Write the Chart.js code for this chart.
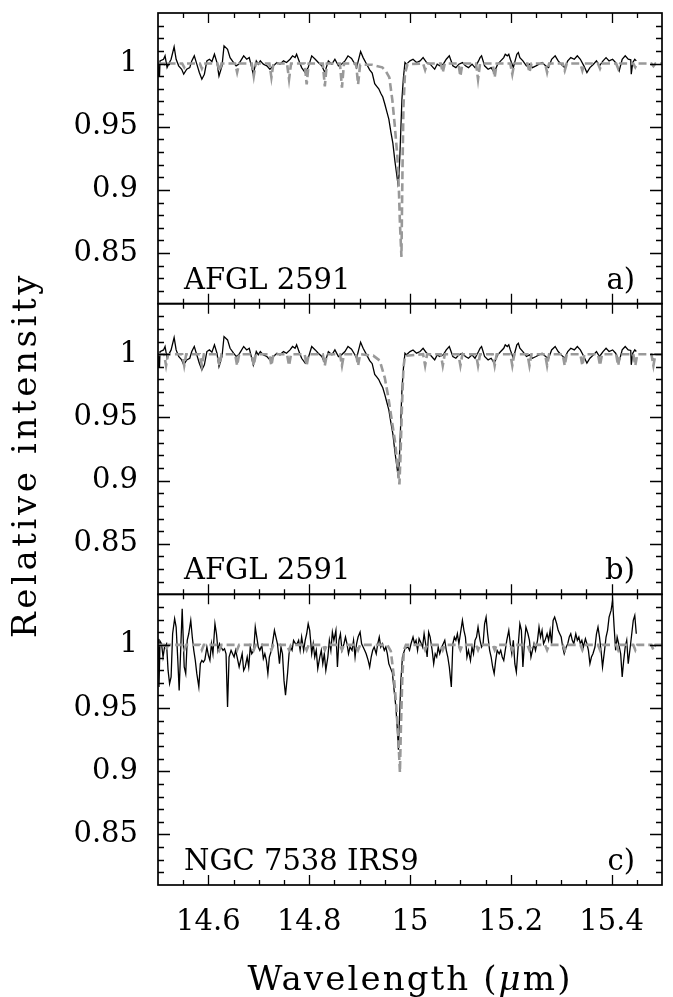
<!DOCTYPE html>
<html lang="en">
<head>
<meta charset="UTF-8">
<title>Relative intensity around 15 micron</title>
<script src="https://cdn.jsdelivr.net/npm/chart.js"></script>
<style>
  html, body { margin: 0; padding: 0; background: #fff; }
  canvas { display: block; }
</style>
</head>
<body>
<canvas id="spec" width="673" height="997"></canvas>
<script>
// observed spectrum of AFGL 2591 (same in panels a and b), [wavelength, intensity]
const afglSpec = [
  [14.500,0.9990],[14.501,0.9900],[14.503,0.9900],[14.504,1.0021],[14.511,1.0034],[14.514,1.0061],[14.518,0.9968],
  [14.521,0.9995],[14.526,1.0034],[14.532,1.0132],[14.536,1.0034],[14.541,0.9982],[14.547,0.9955],[14.551,0.9916],
  [14.557,0.9955],[14.563,0.9968],[14.567,1.0021],[14.572,1.0061],[14.577,0.9995],[14.582,0.9929],[14.587,0.9876],
  [14.592,0.9916],[14.597,1.0021],[14.602,1.0034],[14.607,1.0016],[14.612,1.0074],[14.617,1.0008],[14.621,0.9902],
  [14.627,0.9982],[14.631,1.0140],[14.638,1.0113],[14.643,1.0047],[14.650,1.0008],[14.655,0.9982],[14.660,0.9995],
  [14.664,1.0021],[14.670,1.0061],[14.676,1.0034],[14.681,1.0047],[14.686,0.9968],[14.689,0.9916],[14.695,1.0021],
  [14.699,0.9995],[14.703,1.0021],[14.709,0.9995],[14.716,0.9982],[14.722,0.9955],[14.729,0.9982],[14.736,1.0008],
  [14.742,0.9995],[14.749,1.0021],[14.755,1.0008],[14.762,1.0034],[14.767,1.0061],[14.772,1.0047],[14.775,1.0074],
  [14.781,1.0008],[14.785,0.9968],[14.792,0.9929],[14.798,0.9968],[14.805,1.0061],[14.812,1.0034],[14.818,1.0008],
  [14.825,0.9982],[14.831,0.9929],[14.838,1.0021],[14.845,0.9995],[14.851,1.0034],[14.858,0.9982],[14.864,0.9995],
  [14.871,1.0021],[14.877,1.0061],[14.884,1.0040],[14.890,1.0000],[14.894,0.9968],[14.902,1.0095],[14.907,1.0047],
  [14.914,0.9995],[14.920,0.9950],[14.925,0.9925],[14.930,0.9840],[14.934,0.9820],[14.938,0.9800],[14.942,0.9765],
  [14.946,0.9735],[14.950,0.9680],[14.954,0.9620],[14.958,0.9560],[14.962,0.9460],[14.966,0.9370],[14.970,0.9230],
  [14.973,0.9140],[14.976,0.9050],[14.978,0.9100],[14.980,0.9280],[14.982,0.9500],[14.984,0.9720],[14.987,0.9890],
  [14.990,1.0008],[14.993,0.9995],[15.000,1.0021],[15.006,1.0034],[15.013,1.0008],[15.020,1.0021],[15.026,1.0047],
  [15.033,1.0008],[15.040,0.9995],[15.046,0.9968],[15.049,0.9955],[15.054,0.9995],[15.059,0.9982],[15.066,0.9995],
  [15.072,1.0034],[15.078,1.0061],[15.085,0.9982],[15.091,0.9968],[15.097,0.9995],[15.104,1.0008],[15.110,0.9982],
  [15.116,0.9968],[15.123,0.9995],[15.129,0.9968],[15.136,1.0021],[15.139,1.0047],[15.142,1.0061],[15.148,0.9982],
  [15.155,0.9955],[15.161,0.9968],[15.167,0.9929],[15.174,0.9995],[15.180,1.0021],[15.186,1.0047],[15.189,1.0074],
  [15.193,1.0061],[15.196,1.0074],[15.199,1.0034],[15.205,0.9968],[15.212,1.0074],[15.215,1.0087],[15.218,1.0047],
  [15.224,1.0021],[15.231,0.9982],[15.237,0.9995],[15.243,0.9968],[15.250,0.9982],[15.256,0.9995],[15.262,1.0008],
  [15.269,0.9982],[15.275,0.9968],[15.281,1.0034],[15.288,1.0061],[15.294,1.0021],[15.300,0.9995],[15.307,0.9968],
  [15.313,1.0021],[15.319,1.0047],[15.326,1.0034],[15.332,1.0061],[15.338,1.0034],[15.345,0.9982],[15.351,0.9929],
  [15.357,0.9968],[15.364,0.9995],[15.370,1.0021],[15.376,0.9982],[15.383,1.0021],[15.389,1.0047],[15.395,1.0021],
  [15.402,1.0034],[15.408,1.0008],[15.415,0.9942],[15.421,1.0034],[15.427,1.0061],[15.433,1.0034],[15.438,1.0030],
  [15.439,0.9916],[15.440,0.9916],[15.442,1.0008],[15.446,1.0034],[15.449,1.0021]
];

// observed spectrum of NGC 7538 IRS9 (panel c)
const irs9Spec = [
  [14.500,1.0030],[14.501,1.0049],[14.502,0.9667],[14.504,1.0030],[14.507,1.0009],[14.510,0.9904],[14.513,0.9983],
  [14.517,1.0009],[14.520,0.9798],[14.523,0.9693],[14.526,0.9746],[14.529,1.0088],[14.533,1.0207],[14.536,1.0141],
  [14.539,0.9904],[14.542,0.9640],[14.545,0.9957],[14.548,1.0286],[14.552,0.9825],[14.555,0.9772],[14.558,1.0036],
  [14.561,1.0088],[14.565,1.0194],[14.568,1.0062],[14.571,0.9957],[14.574,0.9877],[14.577,0.9772],[14.581,0.9667],
  [14.584,0.9851],[14.587,0.9877],[14.590,0.9864],[14.593,0.9883],[14.597,0.9983],[14.600,0.9917],[14.603,0.9877],
  [14.606,1.0009],[14.609,0.9930],[14.613,1.0167],[14.616,1.0088],[14.619,0.9957],[14.622,1.0009],[14.625,0.9983],
  [14.629,0.9957],[14.632,0.9970],[14.635,0.9930],[14.638,0.9508],[14.641,0.9904],[14.645,0.9957],[14.648,0.9930],
  [14.651,0.9904],[14.654,0.9957],[14.657,0.9904],[14.661,0.9825],[14.664,0.9877],[14.667,0.9930],[14.670,0.9798],
  [14.673,0.9825],[14.677,0.9904],[14.680,0.9825],[14.683,0.9983],[14.686,0.9930],[14.690,0.9957],[14.693,1.0141],
  [14.696,1.0062],[14.699,0.9983],[14.702,0.9957],[14.706,0.9996],[14.709,0.9891],[14.712,0.9930],[14.715,0.9877],
  [14.718,0.9772],[14.721,0.9904],[14.725,0.9957],[14.728,1.0036],[14.731,1.0115],[14.734,1.0062],[14.737,1.0009],
  [14.741,0.9851],[14.744,0.9983],[14.747,0.9930],[14.750,0.9719],[14.753,0.9601],[14.757,0.9772],[14.760,0.9930],
  [14.763,0.9983],[14.766,0.9957],[14.769,1.0036],[14.773,1.0009],[14.776,1.0009],[14.779,1.0036],[14.782,0.9957],
  [14.785,1.0062],[14.789,0.9957],[14.792,1.0036],[14.795,1.0088],[14.798,1.0167],[14.801,1.0115],[14.805,0.9930],
  [14.808,1.0009],[14.811,0.9904],[14.814,0.9957],[14.817,0.9812],[14.821,0.9904],[14.824,0.9957],[14.827,0.9851],
  [14.830,0.9930],[14.833,0.9798],[14.837,0.9904],[14.840,1.0036],[14.843,0.9957],[14.846,1.0101],[14.849,1.0036],
  [14.853,1.0115],[14.856,0.9825],[14.859,1.0036],[14.862,1.0088],[14.865,0.9957],[14.869,1.0009],[14.872,1.0062],
  [14.875,1.0009],[14.878,0.9930],[14.881,0.9983],[14.885,0.9957],[14.888,1.0036],[14.891,0.9904],[14.894,1.0009],
  [14.897,1.0062],[14.901,1.0101],[14.904,1.0009],[14.907,0.9983],[14.910,0.9957],[14.913,0.9930],[14.917,0.9877],
  [14.920,0.9825],[14.923,0.9904],[14.926,0.9957],[14.929,0.9983],[14.933,0.9930],[14.936,1.0009],[14.939,1.0062],
  [14.942,0.9983],[14.945,1.0009],[14.949,0.9957],[14.952,0.9983],[14.955,0.9930],[14.958,0.9850],[14.961,0.9820],
  [14.965,0.9780],[14.968,0.9660],[14.972,0.9508],[14.975,0.9324],[14.977,0.9170],[14.979,0.9403],[14.982,0.9719],
  [14.985,0.9904],[14.990,0.9970],[14.996,0.9983],[14.999,0.9957],[15.002,1.0009],[15.006,1.0062],[15.009,1.0009],
  [15.012,1.0036],[15.015,0.9957],[15.018,1.0049],[15.021,1.0022],[15.025,0.9983],[15.028,1.0088],[15.031,1.0009],
  [15.034,0.9904],[15.037,1.0101],[15.040,1.0062],[15.044,0.9957],[15.047,0.9851],[15.050,0.9930],[15.053,0.9904],
  [15.056,0.9983],[15.059,0.9930],[15.063,0.9983],[15.066,1.0009],[15.069,1.0036],[15.072,0.9957],[15.075,0.9904],
  [15.078,0.9825],[15.082,0.9667],[15.085,1.0009],[15.088,1.0062],[15.091,1.0036],[15.094,1.0088],[15.097,1.0009],
  [15.101,1.0115],[15.104,1.0194],[15.107,1.0115],[15.110,1.0062],[15.113,0.9904],[15.116,0.9957],[15.120,0.9877],
  [15.123,0.9983],[15.126,0.9930],[15.129,1.0036],[15.132,1.0062],[15.135,1.0141],[15.139,1.0036],[15.142,0.9983],
  [15.145,1.0009],[15.148,1.0167],[15.151,1.0220],[15.154,1.0088],[15.158,0.9957],[15.161,0.9904],[15.164,0.9825],
  [15.167,0.9772],[15.170,0.9877],[15.173,0.9957],[15.177,0.9930],[15.180,0.9957],[15.183,0.9904],[15.186,0.9877],
  [15.189,0.9957],[15.192,1.0036],[15.196,1.0115],[15.199,1.0009],[15.202,0.9930],[15.205,1.0036],[15.208,0.9851],
  [15.211,0.9785],[15.215,1.0009],[15.218,1.0167],[15.221,1.0115],[15.224,0.9825],[15.227,1.0009],[15.230,1.0141],
  [15.234,1.0088],[15.237,1.0036],[15.240,0.9904],[15.243,0.9957],[15.246,1.0009],[15.249,0.9957],[15.253,1.0036],
  [15.256,1.0141],[15.259,1.0062],[15.262,1.0115],[15.265,1.0009],[15.268,1.0036],[15.272,1.0088],[15.275,1.0036],
  [15.278,1.0115],[15.281,1.0009],[15.284,1.0194],[15.287,1.0220],[15.291,1.0167],[15.294,1.0115],[15.297,1.0088],
  [15.300,1.0062],[15.303,0.9983],[15.306,0.9930],[15.310,0.9983],[15.313,1.0009],[15.316,1.0062],[15.319,1.0088],
  [15.322,1.0036],[15.325,1.0009],[15.329,1.0088],[15.332,1.0036],[15.335,1.0062],[15.338,1.0009],[15.341,1.0036],
  [15.344,0.9983],[15.348,1.0049],[15.351,1.0009],[15.354,0.9957],[15.357,0.9851],[15.360,0.9904],[15.363,0.9930],
  [15.367,0.9983],[15.370,1.0088],[15.373,1.0141],[15.376,1.0062],[15.379,0.9957],[15.382,0.9825],[15.386,0.9957],
  [15.389,1.0062],[15.392,1.0115],[15.395,1.0220],[15.399,1.0273],[15.402,1.0352],[15.405,1.0141],[15.408,0.9957],
  [15.411,1.0062],[15.414,1.0009],[15.418,0.9930],[15.421,0.9746],[15.424,0.9877],[15.427,0.9983],[15.430,1.0036],
  [15.433,0.9851],[15.437,0.9983],[15.440,1.0088],[15.443,1.0194],[15.446,1.0233],[15.449,1.0088]
];

// model spectra (grey dashed)
const modelA = [
  [14.500,1.000],[14.512,1.000],[14.516,0.998],[14.520,1.000],[14.548,1.000],[14.552,0.997],[14.556,1.000],
  [14.583,1.000],[14.587,0.996],[14.591,1.000],[14.618,1.000],[14.622,0.994],[14.626,1.000],
  [14.653,1.000],[14.657,0.993],[14.661,1.000],[14.686,1.000],[14.690,0.990],[14.694,1.000],
  [14.721,1.000],[14.725,0.989],[14.729,1.000],[14.756,1.000],[14.760,0.9875],[14.764,1.000],
  [14.791,1.000],[14.795,0.9835],[14.799,1.000],[14.827,1.000],[14.831,0.982],[14.835,1.000],
  [14.861,1.000],[14.865,0.981],[14.869,1.000],[14.893,1.000],[14.897,0.9835],[14.901,0.999],
  [14.925,0.999],[14.945,0.997],[14.952,0.994],[14.959,0.989],[14.965,0.971],[14.970,0.950],[14.975,0.926],
  [14.978,0.900],[14.980,0.874],[14.983,0.847],[14.985,0.913],[14.987,0.966],[14.990,0.992],[14.995,0.9995],
  [15.026,1.000],[15.030,0.995],[15.034,1.000],[15.061,1.000],[15.065,0.993],[15.069,1.000],
  [15.096,1.000],[15.100,0.990],[15.104,1.000],[15.131,1.000],[15.135,0.9876],[15.139,1.000],
  [15.164,1.000],[15.168,0.989],[15.172,1.000],[15.199,1.000],[15.203,0.9916],[15.207,1.000],
  [15.233,1.000],[15.237,0.993],[15.241,1.000],[15.268,1.000],[15.272,0.993],[15.276,1.000],
  [15.303,1.000],[15.307,0.9945],[15.311,1.000],[15.338,1.000],[15.342,0.9945],[15.346,1.000],
  [15.373,1.000],[15.377,0.996],[15.381,1.000],[15.409,1.000],[15.413,0.996],[15.417,1.000],
  [15.443,1.000],[15.447,0.997],[15.451,1.000],[15.479,1.000],[15.483,0.998],[15.487,1.000],[15.500,1.000]
];
const modelB = [
  [14.500,1.000],[14.512,1.000],[14.516,0.991],[14.520,1.000],[14.548,1.000],[14.552,0.991],[14.556,1.000],
  [14.583,1.000],[14.587,0.991],[14.591,1.000],[14.618,1.000],[14.622,0.991],[14.626,1.000],
  [14.653,1.000],[14.657,0.991],[14.661,1.000],[14.686,1.000],[14.690,0.991],[14.694,1.000],
  [14.721,1.000],[14.725,0.991],[14.729,1.000],[14.756,1.000],[14.760,0.991],[14.764,1.000],
  [14.791,1.000],[14.795,0.991],[14.799,1.000],[14.827,1.000],[14.831,0.991],[14.835,1.000],
  [14.861,1.000],[14.865,0.991],[14.869,1.000],[14.893,1.000],[14.897,0.991],[14.901,1.000],
  [14.927,0.9989],[14.940,0.995],[14.950,0.9813],[14.957,0.966],[14.963,0.950],[14.970,0.9317],[14.975,0.9128],
  [14.979,0.897],[14.981,0.918],[14.984,0.958],[14.987,0.9894],[14.990,0.9987],
  [15.026,1.000],[15.030,0.991],[15.034,1.000],[15.061,1.000],[15.065,0.991],[15.069,1.000],
  [15.096,1.000],[15.100,0.991],[15.104,1.000],[15.131,1.000],[15.135,0.991],[15.139,1.000],
  [15.164,1.000],[15.168,0.991],[15.172,1.000],[15.199,1.000],[15.203,0.991],[15.207,1.000],
  [15.233,1.000],[15.237,0.991],[15.241,1.000],[15.268,1.000],[15.272,0.991],[15.276,1.000],
  [15.303,1.000],[15.307,0.991],[15.311,1.000],[15.338,1.000],[15.342,0.991],[15.346,1.000],
  [15.373,1.000],[15.377,0.991],[15.381,1.000],[15.409,1.000],[15.413,0.991],[15.417,1.000],
  [15.443,1.000],[15.447,0.991],[15.451,1.000],[15.479,1.000],[15.483,0.991],[15.487,1.000],[15.500,1.000]
];
const modelC = [
  [14.500,1.000],[14.512,1.000],[14.516,0.996],[14.520,1.000],[14.548,1.000],[14.552,0.996],[14.556,1.000],
  [14.583,1.000],[14.587,0.996],[14.591,1.000],[14.618,1.000],[14.622,0.996],[14.626,1.000],
  [14.653,1.000],[14.657,0.996],[14.661,1.000],[14.686,1.000],[14.690,0.996],[14.694,1.000],
  [14.721,1.000],[14.725,0.996],[14.729,1.000],[14.756,1.000],[14.760,0.996],[14.764,1.000],
  [14.791,1.000],[14.795,0.996],[14.799,1.000],[14.827,1.000],[14.831,0.996],[14.835,1.000],
  [14.861,1.000],[14.865,0.996],[14.869,1.000],[14.893,1.000],[14.897,0.996],[14.901,1.000],
  [14.955,1.000],[14.962,0.995],[14.968,0.975],[14.973,0.950],[14.977,0.925],[14.980,0.899],[14.982,0.935],
  [14.985,0.977],[14.988,0.996],[14.992,1.000],
  [15.026,1.000],[15.030,0.996],[15.034,1.000],[15.061,1.000],[15.065,0.996],[15.069,1.000],
  [15.096,1.000],[15.100,0.996],[15.104,1.000],[15.131,1.000],[15.135,0.996],[15.139,1.000],
  [15.164,1.000],[15.168,0.996],[15.172,1.000],[15.199,1.000],[15.203,0.996],[15.207,1.000],
  [15.233,1.000],[15.237,0.996],[15.241,1.000],[15.268,1.000],[15.272,0.996],[15.276,1.000],
  [15.303,1.000],[15.307,0.996],[15.311,1.000],[15.338,1.000],[15.342,0.996],[15.346,1.000],
  [15.373,1.000],[15.377,0.996],[15.381,1.000],[15.409,1.000],[15.413,0.996],[15.417,1.000],
  [15.443,1.000],[15.447,0.996],[15.451,1.000],[15.479,1.000],[15.483,0.996],[15.487,1.000],[15.500,1.000]
];

const xTicks = [14.6, 14.8, 15, 15.2, 15.4];
const yTicks = [0.85, 0.9, 0.95, 1];
const panelAxes = ['ya', 'yb', 'yc'];
const panelNames = ['AFGL 2591', 'AFGL 2591', 'NGC 7538 IRS9'];
const panelTags = ['a)', 'b)', 'c)'];

const serif = "'DejaVu Serif', serif";
const pts = arr => arr.map(p => ({ x: p[0], y: p[1] }));

function black(data, axis) {
  return { data: pts(data), yAxisID: axis, borderColor: '#000', borderWidth: 1.3, order: 2 };
}
function grey(data, axis) {
  return { data: pts(data), yAxisID: axis, borderColor: '#999', borderWidth: 2.6, borderDash: [8, 4], order: 1 };
}

function yScale(w) {
  return {
    type: 'linear', position: 'left', stack: 'panels', stackWeight: 1, weight: w,
    min: 0.81, max: 1.04,
    grid: { display: false, drawTicks: false }, border: { display: false },
    afterBuildTicks: s => { s.ticks = yTicks.map(v => ({ value: v })); },
    afterFit: s => { s.width = 158; s.paddingTop = 0; s.paddingBottom = 0; },
    ticks: { color: '#000', padding: 20, font: { family: serif, size: 29 }, callback: v => String(v) }
  };
}

// writes text spread to a given width (the original font is much wider)
function spreadText(ctx, parts, cx, y, width) {
  let w = 0, n = 0;
  const widths = parts.map(p => { ctx.font = p.f; const m = ctx.measureText(p.t).width; w += m; n += p.t.length; return m; });
  const sp = (width - w) / n;
  let x = cx - width / 2;
  ctx.textAlign = 'left';
  parts.forEach((p, i) => {
    ctx.font = p.f;
    ctx.letterSpacing = sp + 'px';
    ctx.fillText(p.t, x, y);
    x += widths[i] + sp * p.t.length;
  });
  ctx.letterSpacing = '0px';
}

const frame = {
  id: 'frame',
  afterDatasetsDraw(chart) {
    const ctx = chart.ctx;
    const xs = chart.scales.x;
    ctx.save();
    ctx.strokeStyle = '#000';
    ctx.fillStyle = '#000';
    panelAxes.forEach((id, i) => {
      const ys = chart.scales[id];
      const l = xs.left, r = xs.right, t = ys.top, b = ys.bottom;
      ctx.lineWidth = 1.7;
      ctx.strokeRect(l, t, r - l, b - t);
      ctx.lineWidth = 1.3;
      ctx.beginPath();
      for (let k = 1; k < 20; k++) {
        const px = Math.round(xs.getPixelForValue(14.5 + k * 0.05)) + 0.5;
        const len = k % 4 === 2 ? 10 : 5;
        ctx.moveTo(px, t); ctx.lineTo(px, t + len);
        ctx.moveTo(px, b); ctx.lineTo(px, b - len);
      }
      for (let k = 1; k < 23; k++) {
        const py = Math.round(ys.getPixelForValue(0.81 + k * 0.01)) + 0.5;
        const len = (k + 1) % 5 === 0 ? 12 : 6;
        ctx.moveTo(l, py); ctx.lineTo(l + len, py);
        ctx.moveTo(r, py); ctx.lineTo(r - len, py);
      }
      ctx.stroke();
      ctx.font = '29px ' + serif;
      ctx.textBaseline = 'alphabetic';
      ctx.textAlign = 'left';
      ctx.fillText(panelNames[i], l + 26, b - 15);
      ctx.textAlign = 'right';
      ctx.fillText(panelTags[i], r - 27, b - 15);
    });

    const top = chart.scales.ya.top, bottom = chart.scales.yc.bottom;
    ctx.save();
    ctx.translate(36, (top + bottom) / 2 + 6);
    ctx.rotate(-Math.PI / 2);
    spreadText(ctx, [{ t: 'Relative intensity', f: '34px ' + serif }], 0, 0, 366);
    ctx.restore();

    spreadText(ctx, [
      { t: 'Wavelength (', f: '34px ' + serif },
      { t: 'μ', f: 'italic 34px ' + serif },
      { t: 'm)', f: '34px ' + serif }
    ], (xs.left + xs.right) / 2, 990, 325);
    ctx.restore();
  }
};

new Chart(document.getElementById('spec'), {
  type: 'line',
  data: {
    datasets: [
      grey(modelA, 'ya'), black(afglSpec, 'ya'),
      grey(modelB, 'yb'), black(afglSpec, 'yb'),
      grey(modelC, 'yc'), black(irs9Spec, 'yc')
    ]
  },
  options: {
    responsive: false,
    animation: false,
    layout: { padding: { top: 13, right: 11, left: 0, bottom: 0 } },
    elements: { point: { radius: 0 }, line: { tension: 0 } },
    plugins: { legend: { display: false }, tooltip: { enabled: false } },
    scales: {
      x: {
        type: 'linear', min: 14.5, max: 15.5,
        grid: { display: false, drawTicks: false }, border: { display: false },
        afterBuildTicks: s => { s.ticks = xTicks.map(v => ({ value: v })); },
        afterFit: s => { s.height = 112; s.paddingLeft = 0; s.paddingRight = 0; },
        ticks: { color: '#000', padding: 20, maxRotation: 0, autoSkip: false,
                 font: { family: serif, size: 29 }, callback: v => String(v) }
      },
      ya: yScale(3),
      yb: yScale(2),
      yc: yScale(1)
    }
  },
  plugins: [frame]
});
</script>
</body>
</html>
